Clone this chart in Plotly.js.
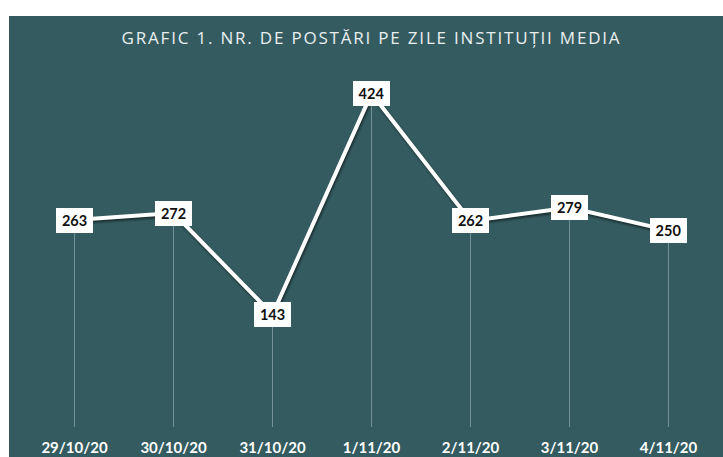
<!DOCTYPE html>
<html>
<head>
<meta charset="utf-8">
<script src="https://cdn.plot.ly/plotly-3.0.1.min.js"></script>
<style>
  html, body { margin: 0; padding: 0; background: #ffffff; width: 723px; height: 457px; overflow: hidden; }
  #chart { position: absolute; left: 9px; top: 16px; width: 714px; height: 441px; }
  .gtitle { letter-spacing: 1.8px; }
  .scatterlayer .js-line { filter: drop-shadow(1.5px 2px 1px rgba(0,0,0,0.5)); }
</style>
</head>
<body>
<div id="chart"></div>
<script>
const categories = ["29/10/20", "30/10/20", "31/10/20", "1/11/20", "2/11/20", "3/11/20", "4/11/20"];
const values = [263, 272, 143, 424, 262, 279, 250];
const titleText = "GRAFIC 1. NR. DE POSTĂRI PE ZILE INSTITUȚII MEDIA";

const bg = "#345b5f";

const trace = {
  x: categories,
  y: values,
  type: "scatter",
  mode: "lines",
  line: { color: "#ffffff", width: 4 },
  error_y: {
    type: "data",
    symmetric: false,
    array: values.map(() => 0),
    arrayminus: values,
    color: "rgba(210,230,236,0.5)",
    thickness: 0.8,
    width: 0
  },
  hoverinfo: "skip",
  showlegend: false
};

const annotations = categories.map((c, i) => ({
  x: c,
  y: values[i],
  xref: "x",
  yref: "y",
  text: "<b>" + values[i] + "</b>",
  showarrow: false,
  bgcolor: "#ffffff",
  bordercolor: "#ffffff",
  borderwidth: 0,
  width: 35,
  height: 23,
  font: { family: "Lato, 'Open Sans', sans-serif", size: 14.5, color: "#111111" }
}));

const layout = {
  width: 714,
  height: 441,
  paper_bgcolor: bg,
  plot_bgcolor: bg,
  margin: { l: 16, r: 5, t: 57, b: 30, pad: 0 },
  title: {
    text: titleText,
    x: 0.5,
    xref: "paper",
    xanchor: "center",
    y: 1 - 22 / 441,
    yref: "container",
    yanchor: "middle",
    font: { family: "'Open Sans', sans-serif", size: 17, color: "#e9eff1" }
  },
  xaxis: {
    type: "category",
    range: [-0.5, 6.5],
    showgrid: false,
    zeroline: false,
    showline: false,
    ticks: "",
    tickfont: { family: "Lato, 'Open Sans', sans-serif", size: 15, color: "#ffffff", weight: "bold" },
    ticklabelstandoff: 10,
    fixedrange: true
  },
  yaxis: {
    range: [0, 450],
    visible: false,
    showgrid: false,
    zeroline: false,
    fixedrange: true
  },
  annotations: annotations,
  showlegend: false
};

Plotly.newPlot("chart", [trace], layout, { displayModeBar: false, staticPlot: true });
</script>
</body>
</html>
